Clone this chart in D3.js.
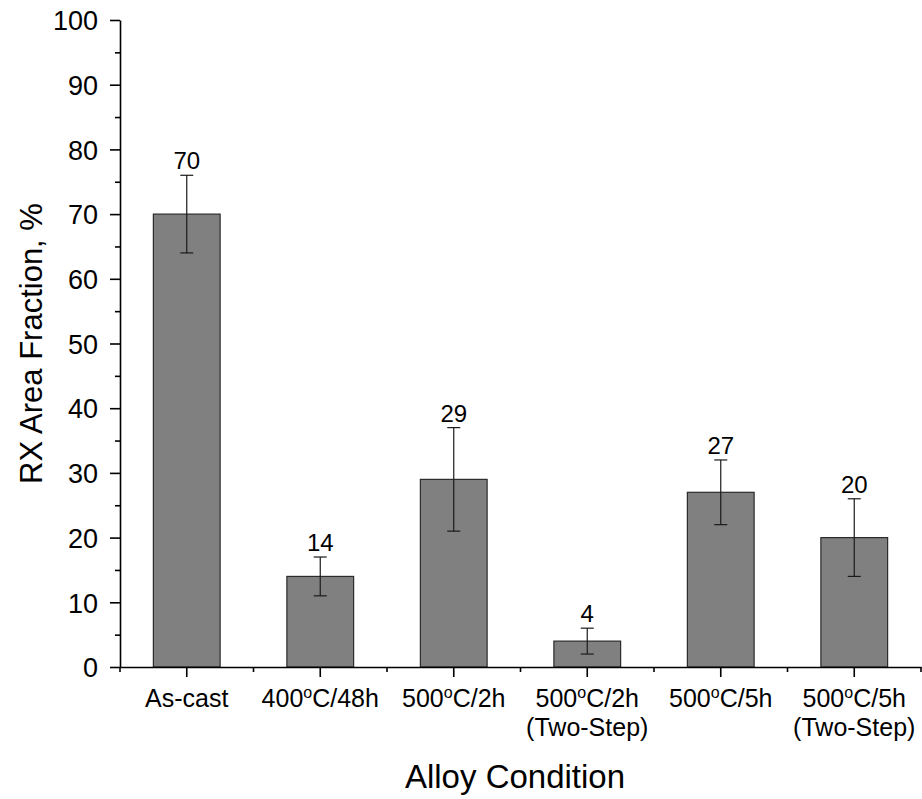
<!DOCTYPE html>
<html>
<head>
<meta charset="utf-8">
<script src="https://cdn.jsdelivr.net/npm/d3@7"></script>
<style>
  body { margin: 0; background: #fff; }
  svg text { font-family: "Liberation Sans", Arial, sans-serif; fill: #000; }
</style>
</head>
<body>
<div class="chart"></div>
<script>
// chart data
const categories = ["As-cast", "400°C/48h", "500°C/2h", "500°C/2h|(Two-Step)", "500°C/5h", "500°C/5h|(Two-Step)"];
const values = [70, 14, 29, 4, 27, 20];
const errors = [6, 3, 8, 2, 5, 6];
const yTicks = [0, 10, 20, 30, 40, 50, 60, 70, 80, 90, 100];

const W = 922, H = 799;
const plotLeft = 120, plotRight = 921, plotTop = 20, plotBottom = 667;

const svg = d3.select(".chart").append("svg")
  .attr("width", W)
  .attr("height", H);

const x = d3.scaleBand()
  .domain(categories)
  .range([plotLeft, plotRight])
  .paddingInner(0.5)
  .paddingOuter(0.25);

const y = d3.scaleLinear()
  .domain([0, 100])
  .range([plotBottom, plotTop]);

// bars
svg.selectAll("rect.bar")
  .data(categories)
  .join("rect")
  .attr("class", "bar")
  .attr("x", d => x(d))
  .attr("y", (d, i) => y(values[i]))
  .attr("width", x.bandwidth())
  .attr("height", (d, i) => y(0) - y(values[i]))
  .attr("fill", "#808080")
  .attr("stroke", "#2b2b2b")
  .attr("stroke-width", 1.2);

// error bars
const cap = 6.5;
const err = svg.selectAll("g.err")
  .data(categories)
  .join("g")
  .attr("class", "err")
  .attr("transform", d => `translate(${x(d) + x.bandwidth() / 2},0)`)
  .attr("stroke", "#1a1a1a")
  .attr("stroke-width", 1.2);
err.append("line")
  .attr("y1", (d, i) => y(values[i] - errors[i]))
  .attr("y2", (d, i) => y(values[i] + errors[i]));
err.append("line")
  .attr("x1", -cap).attr("x2", cap)
  .attr("y1", (d, i) => y(values[i] + errors[i]))
  .attr("y2", (d, i) => y(values[i] + errors[i]));
err.append("line")
  .attr("x1", -cap).attr("x2", cap)
  .attr("y1", (d, i) => y(values[i] - errors[i]))
  .attr("y2", (d, i) => y(values[i] - errors[i]));

// value labels
svg.selectAll("text.val")
  .data(categories)
  .join("text")
  .attr("class", "val")
  .attr("x", d => x(d) + x.bandwidth() / 2)
  .attr("y", (d, i) => y(values[i] + errors[i]) - 6)
  .attr("text-anchor", "middle")
  .attr("font-size", 24)
  .text((d, i) => values[i]);

// y axis
const yAxis = svg.append("g")
  .attr("transform", `translate(${plotLeft},0)`)
  .call(d3.axisLeft(y).tickValues(yTicks).tickSize(10).tickPadding(12).tickSizeOuter(0));
yAxis.attr("font-size", null).attr("font-family", null);
yAxis.selectAll("text").attr("font-size", 27).attr("dy", "0.36em");
svg.append("g")
  .attr("transform", `translate(${plotLeft},0)`)
  .call(d3.axisLeft(y).tickValues(yTicks.slice(0, -1).map(v => v + 5)).tickSize(5).tickFormat("").tickSizeOuter(0))
  .call(g => g.select(".domain").remove());

// x axis
svg.append("g")
  .attr("transform", `translate(0,${plotBottom})`)
  .call(d3.axisBottom(x).tickSize(10).tickFormat("").tickSizeOuter(0));

// minor x ticks at band boundaries
const step = x.step();
const bounds = categories.map(d => x(d) - step * 0.25).concat([plotRight]);
svg.append("g")
  .attr("class", "minor-x")
  .selectAll("line")
  .data(bounds)
  .join("line")
  .attr("x1", d => d).attr("x2", d => d)
  .attr("y1", plotBottom).attr("y2", plotBottom + 5)
  .attr("stroke", "#000")
  .attr("stroke-width", 1.6);

svg.selectAll(".domain, .tick line").attr("stroke", "#000").attr("stroke-width", 1.6);

// x tick labels with superscript degree "o"
const xl = svg.selectAll("text.xl")
  .data(categories)
  .join("text")
  .attr("class", "xl")
  .attr("text-anchor", "middle")
  .attr("font-size", 25);
xl.each(function (d) {
  const t = d3.select(this);
  const cx = x(d) + x.bandwidth() / 2;
  d.split("|").forEach((line, li) => {
    const ty = plotBottom + 40 + li * 29;
    const parts = line.split("°");
    if (parts.length === 1) {
      t.append("tspan").attr("x", cx).attr("y", ty).text(line);
    } else {
      t.append("tspan").attr("x", cx).attr("y", ty).text(parts[0]);
      t.append("tspan").attr("dy", -9).attr("font-size", 16).text("o");
      t.append("tspan").attr("dy", 9).text(parts[1]);
    }
  });
});

// axis titles
svg.append("text")
  .attr("x", 515)
  .attr("y", 788)
  .attr("text-anchor", "middle")
  .attr("font-size", 33)
  .text("Alloy Condition");

svg.append("text")
  .attr("transform", `translate(42,${(plotTop + plotBottom) / 2}) rotate(-90)`)
  .attr("text-anchor", "middle")
  .attr("font-size", 31)
  .text("RX Area Fraction, %");
</script>
</body>
</html>
